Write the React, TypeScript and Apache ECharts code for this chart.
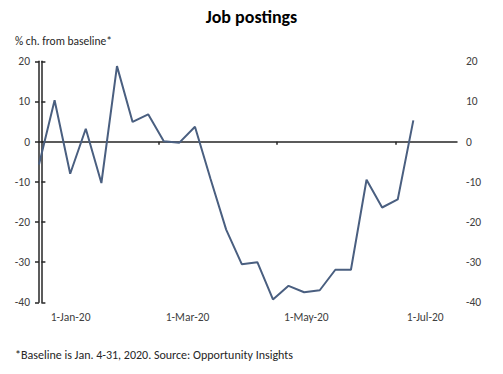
import React, { useEffect, useRef } from "react";
import * as echarts from "echarts";

// Weekly observations (index of week in the sample)
const weeks = [0, 1, 2, 3, 4, 5, 6, 7, 8, 9, 10, 11, 12, 13, 14, 15, 16, 17, 18, 19, 20, 21, 22, 23, 24];
// Job postings, % change from baseline
const jobPostings = [
  -5.7, 10.3, -8.0, 3.2, -10.3, 18.8, 4.9, 6.8, 0.1, -0.25, 3.7, -9.3, -21.9,
  -30.5, -30.0, -39.3, -35.9, -37.5, -37.0, -31.9, -31.9, -9.5, -16.4, -14.4, 5.3,
];
// Date axis (days since 1 Jan 2020)
const monthTickDays = [60, 121, 182];
const monthLabelDays = [15, 75, 136, 197];
const monthLabels = ["1-Jan-20", "1-Mar-20", "1-May-20", "1-Jul-20"];
const yMin = -40;
const yMax = 20;
const yStep = 10;

const FONT = "Carlito, Lato, 'Open Sans', sans-serif";

export default function App() {
  const ref = useRef<HTMLDivElement>(null);
  useEffect(() => {
    if (!ref.current) return;
    const chart = echarts.init(ref.current, undefined, { renderer: "svg" });
    const axisColor = "#262626";
    const labelColor = "#404040";
    const dayMin = -1.23;
    const dayMax = 213.3;
    chart.setOption({
      animation: false,
      backgroundColor: "#ffffff",
      textStyle: { fontFamily: FONT },
      title: [
        {
          text: "Job postings",
          left: "center",
          top: 3,
          textStyle: { fontFamily: FONT, fontSize: 18, fontWeight: "bold", color: "#000000" },
        },
        {
          text: "% ch. from baseline*",
          left: 10,
          top: 30,
          textStyle: { fontFamily: FONT, fontSize: 11.5, fontWeight: "normal", color: "#262626" },
        },
        {
          text: "*Baseline is Jan. 4-31, 2020. Source: Opportunity Insights",
          left: 10,
          top: 344,
          textStyle: { fontFamily: FONT, fontSize: 12, fontWeight: "normal", color: "#262626" },
        },
      ],
      grid: { left: 39, right: 46, top: 61.3, bottom: 71.7, containLabel: false },
      xAxis: [
        {
          type: "value",
          min: 0,
          max: 26.8,
          show: false,
          splitLine: { show: false },
        },
        {
          type: "value",
          min: dayMin,
          max: dayMax,
          position: "bottom",
          axisLine: { show: true, onZero: true, lineStyle: { color: axisColor, width: 1.5 } },
          axisTick: { show: true, customValues: monthTickDays, length: 3, lineStyle: { color: axisColor, width: 1.5 } },
          axisLabel: { show: false },
          splitLine: { show: false },
        },
        {
          type: "value",
          min: dayMin,
          max: dayMax,
          position: "bottom",
          axisLine: { show: false, onZero: false },
          axisTick: { show: false },
          axisLabel: {
            show: true,
            customValues: monthLabelDays,
            margin: 9,
            fontSize: 11.5,
            color: labelColor,
            fontFamily: FONT,
            formatter: (v: number) => {
              let best = 0;
              monthLabelDays.forEach((d, i) => {
                if (Math.abs(d - v) < Math.abs(monthLabelDays[best] - v)) best = i;
              });
              return monthLabels[best];
            },
          },
          splitLine: { show: false },
        },
      ],
      yAxis: [
        {
          type: "value",
          position: "left",
          min: yMin,
          max: yMax,
          interval: yStep,
          axisLine: { show: true, lineStyle: { color: axisColor, width: 1.5 } },
          axisTick: { show: true, length: 4, lineStyle: { color: axisColor, width: 1.5 } },
          axisLabel: { fontSize: 11.5, color: labelColor, margin: 9, fontFamily: FONT },
          splitLine: { show: false },
        },
        {
          type: "value",
          position: "right",
          min: yMin,
          max: yMax,
          interval: yStep,
          axisLine: { show: true, lineStyle: { color: axisColor, width: 1.5 } },
          axisTick: { show: true, length: 4, lineStyle: { color: axisColor, width: 1.5 } },
          axisLabel: { fontSize: 11.5, color: labelColor, margin: 9, fontFamily: FONT },
          splitLine: { show: false },
        },
      ],
      series: [
        {
          type: "line",
          xAxisIndex: 0,
          yAxisIndex: 0,
          data: weeks.map((w, i) => [w, jobPostings[i]]),
          showSymbol: false,
          symbol: "none",
          lineStyle: { color: "#4a5f80", width: 2 },
          z: 3,
        },
      ],
    });
    return () => chart.dispose();
  }, []);
  return (
    <div
      ref={ref}
      style={{ position: "fixed", left: 0, top: 0, width: 503, height: 374, background: "#fff" }}
    />
  );
}
